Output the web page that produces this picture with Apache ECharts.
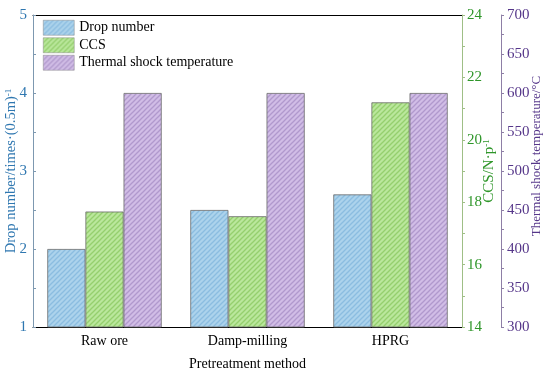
<!DOCTYPE html>
<html><head><meta charset="utf-8">
<script src="https://cdn.jsdelivr.net/npm/echarts@6/dist/echarts.min.js"></script>
<style>html,body{margin:0;padding:0;background:#fff}#c{width:550px;height:372px}</style>
</head><body><div id="c"></div>
<script>
const categories = ['Raw ore', 'Damp-milling', 'HPRG'];
const dropNumber = [2.0, 2.5, 2.7];
const ccs = [17.7, 17.55, 21.2];
const thermalShock = [600, 600, 600];
const seriesNames = ['Drop number', 'CCS', 'Thermal shock temperature'];

const FONT = '"Liberation Serif", "Times New Roman", serif';
const BLUE = '#2f77b0', GREEN = '#2f962a', PURPLE = '#56378a';

function pattern(bg, fg) {
  const s = 5;
  const c = document.createElement('canvas');
  c.width = s; c.height = s;
  const g = c.getContext('2d');
  g.fillStyle = bg; g.fillRect(0, 0, s, s);
  g.strokeStyle = fg; g.lineWidth = 1.3;
  for (const k of [0, s, 2 * s]) {
    g.beginPath(); g.moveTo(k - s - 1, s + 1); g.lineTo(k + 1, -1); g.stroke();
  }
  return { image: c, repeat: 'repeat' };
}
const fills = [
  pattern('#acd3ec', '#8bbde0'),
  pattern('#bae79c', '#95cf6e'),
  pattern('#d1bde6', '#b199cd')
];

const chart = echarts.init(document.getElementById('c'), null, { renderer: 'canvas' });
const tickLabel = (col) => ({ color: col, fontFamily: FONT, fontSize: 15 });
chart.setOption({
  animation: false,
  textStyle: { fontFamily: FONT },
  grid: { left: 33, right: 88, top: 15, bottom: 45, containLabel: false, outerBoundsMode: 'none' },
  legend: {
    orient: 'vertical', left: 43, top: 20, padding: 0, itemWidth: 31, itemHeight: 15, itemGap: 2,
    icon: 'rect', data: seriesNames,
    itemStyle: { borderWidth: 0.5, borderColor: '#888' },
    textStyle: { fontFamily: FONT, fontSize: 14, color: '#000' }
  },
  xAxis: [{
    type: 'category', data: categories,
    axisLine: { lineStyle: { color: '#000', width: 1 } },
    axisTick: { inside: true, alignWithLabel: true, length: 4, lineStyle: { color: '#000' } },
    axisLabel: { color: '#000', fontFamily: FONT, fontSize: 14, margin: 7 },
    name: 'Pretreatment method', nameLocation: 'middle', nameGap: 30, nameMoveOverlap: false,
    nameTextStyle: { color: '#000', fontFamily: FONT, fontSize: 14 }
  }, {
    type: 'category', data: categories, position: 'top',
    axisLine: { lineStyle: { color: '#000', width: 1 } },
    axisTick: { show: false }, axisLabel: { show: false }
  }],
  yAxis: [{
    type: 'value', position: 'left', min: 1, max: 5, interval: 1,
    axisLine: { show: true, lineStyle: { color: '#7d98b0' } },
    axisTick: { show: true, inside: true, length: 3, lineStyle: { color: '#7d98b0' } },
    minorTick: { show: true, splitNumber: 2, length: 3, lineStyle: { color: '#7d98b0' } },
    splitLine: { show: false },
    axisLabel: Object.assign(tickLabel(BLUE), { margin: 6 }),
    name: 'Drop number/times·(0.5m){sup|-1}', nameLocation: 'middle', nameGap: 14, nameRotate: 90,
    nameMoveOverlap: false,
    nameTextStyle: {
      color: BLUE, fontFamily: FONT, fontSize: 14.5,
      rich: { sup: { color: BLUE, fontFamily: FONT, fontSize: 9, verticalAlign: 'top' } }
    }
  }, {
    type: 'value', position: 'right', min: 14, max: 24, interval: 2,
    axisLine: { show: true, lineStyle: { color: '#9fbf86' } },
    axisTick: { show: true, inside: false, length: 3, lineStyle: { color: '#9fbf86' } },
    minorTick: { show: true, splitNumber: 2, length: 3, lineStyle: { color: '#9fbf86' } },
    splitLine: { show: false },
    axisLabel: Object.assign(tickLabel(GREEN), { margin: 5 }),
    name: 'CCS/N·p{sup|-1}', nameLocation: 'middle', nameGap: 20, nameRotate: 90,
    nameMoveOverlap: false,
    nameTextStyle: {
      color: GREEN, fontFamily: FONT, fontSize: 15,
      rich: { sup: { color: GREEN, fontFamily: FONT, fontSize: 9, verticalAlign: 'top' } }
    }
  }, {
    type: 'value', position: 'right', offset: 39, min: 300, max: 700, interval: 50,
    axisLine: { show: true, lineStyle: { color: '#8e7fa6' } },
    axisTick: { show: true, inside: false, length: 3, lineStyle: { color: '#8e7fa6' } },
    minorTick: { show: true, splitNumber: 2, length: 3, lineStyle: { color: '#8e7fa6' } },
    splitLine: { show: false },
    axisLabel: Object.assign(tickLabel(PURPLE), { margin: 6 }),
    name: 'Thermal shock temperature/°C', nameLocation: 'middle', nameGap: 29, nameRotate: 90,
    nameMoveOverlap: false,
    nameTextStyle: { color: PURPLE, fontFamily: FONT, fontSize: 13, padding: [0, 0, 0, 30] }
  }],
  series: [
    { name: seriesNames[0], type: 'bar', data: dropNumber, yAxisIndex: 0, barGap: '0%', barCategoryGap: '20%',
      itemStyle: { color: fills[0], borderColor: '#6b6b6b', borderWidth: 0.8 } },
    { name: seriesNames[1], type: 'bar', data: ccs, yAxisIndex: 1, barGap: '0%', barCategoryGap: '20%',
      itemStyle: { color: fills[1], borderColor: '#6b6b6b', borderWidth: 0.8 } },
    { name: seriesNames[2], type: 'bar', data: thermalShock, yAxisIndex: 2, barGap: '0%', barCategoryGap: '20%',
      itemStyle: { color: fills[2], borderColor: '#6b6b6b', borderWidth: 0.8 } }
  ]
});
</script></body></html>
